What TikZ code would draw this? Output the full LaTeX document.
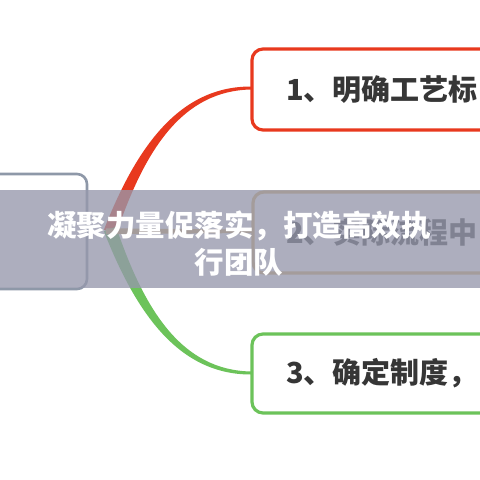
\documentclass[tikz,border=0pt]{standalone}
\usepackage{fontspec}
\newfontfamily\cjk{Noto Sans CJK SC}
\definecolor{redc}{HTML}{E8391E}
\definecolor{greenc}{HTML}{6CC35A}
\definecolor{goldc}{HTML}{D6AE62}
\definecolor{greyc}{HTML}{8E98A8}
\definecolor{txtc}{HTML}{363636}
\definecolor{bandc}{RGB}{150,152,172}
\tikzset{
  branchbox/.style={line width=3.2pt, rounded corners=11pt, fill=white},
  boxtext/.style={anchor=west, inner sep=0pt, text=txtc, font=\cjk\bfseries\fontsize{29}{33}\selectfont},
  bandtext/.style={align=center, inner sep=0pt, text=white, font=\cjk\bfseries\fontsize{29.5}{37}\selectfont},
}
\begin{document}
\begin{tikzpicture}[x=1pt,y=-1pt]
\useasboundingbox (0,0) rectangle (480,480);
\clip (0,0) rectangle (480,480);
\fill[white] (0,0) rectangle (480,480);
\coordinate (root) at (110,231);
% branches (tapered)
\fill[redc] (116.1,234.2) .. controls (144,152) and (181.2,90.2) .. (252,89.5)
  -- (252,86.5) .. controls (178.8,85.8) and (136,148) .. (103.9,229.8) -- cycle;
\fill[greenc] (116.1,226.8) .. controls (144,309) and (181.2,370.8) .. (252,371.5)
  -- (252,374.5) .. controls (178.8,375.2) and (136,313) .. (103.9,231.2) -- cycle;
\fill[goldc] (106,228.3) -- (252,229.6) -- (252,233) -- (106,234.2) -- cycle;
% boxes
\draw[branchbox, draw=redc] (252,49) rectangle (520,130);
\draw[branchbox, draw=goldc] (253,192) rectangle (520,273);
\draw[branchbox, draw=greenc] (252,334) rectangle (520,413);
\node[boxtext] (t1) at (286,90) {1、明确工艺标};
\node[boxtext] (t2) at (286,232) {2、实际流程中};
\node[boxtext] (t3) at (286,373) {3、确定制度，};
% central box
\draw[line width=2.6pt, draw=greyc, rounded corners=10pt, fill=white] (-40,174) rectangle (87,289);
% overlay band
\fill[bandc, opacity=0.78] (0,190) rectangle (480,288);
\node[bandtext] (title) at (239,244) {凝聚力量促落实，打造高效执\\行团队};
\end{tikzpicture}
\end{document}
